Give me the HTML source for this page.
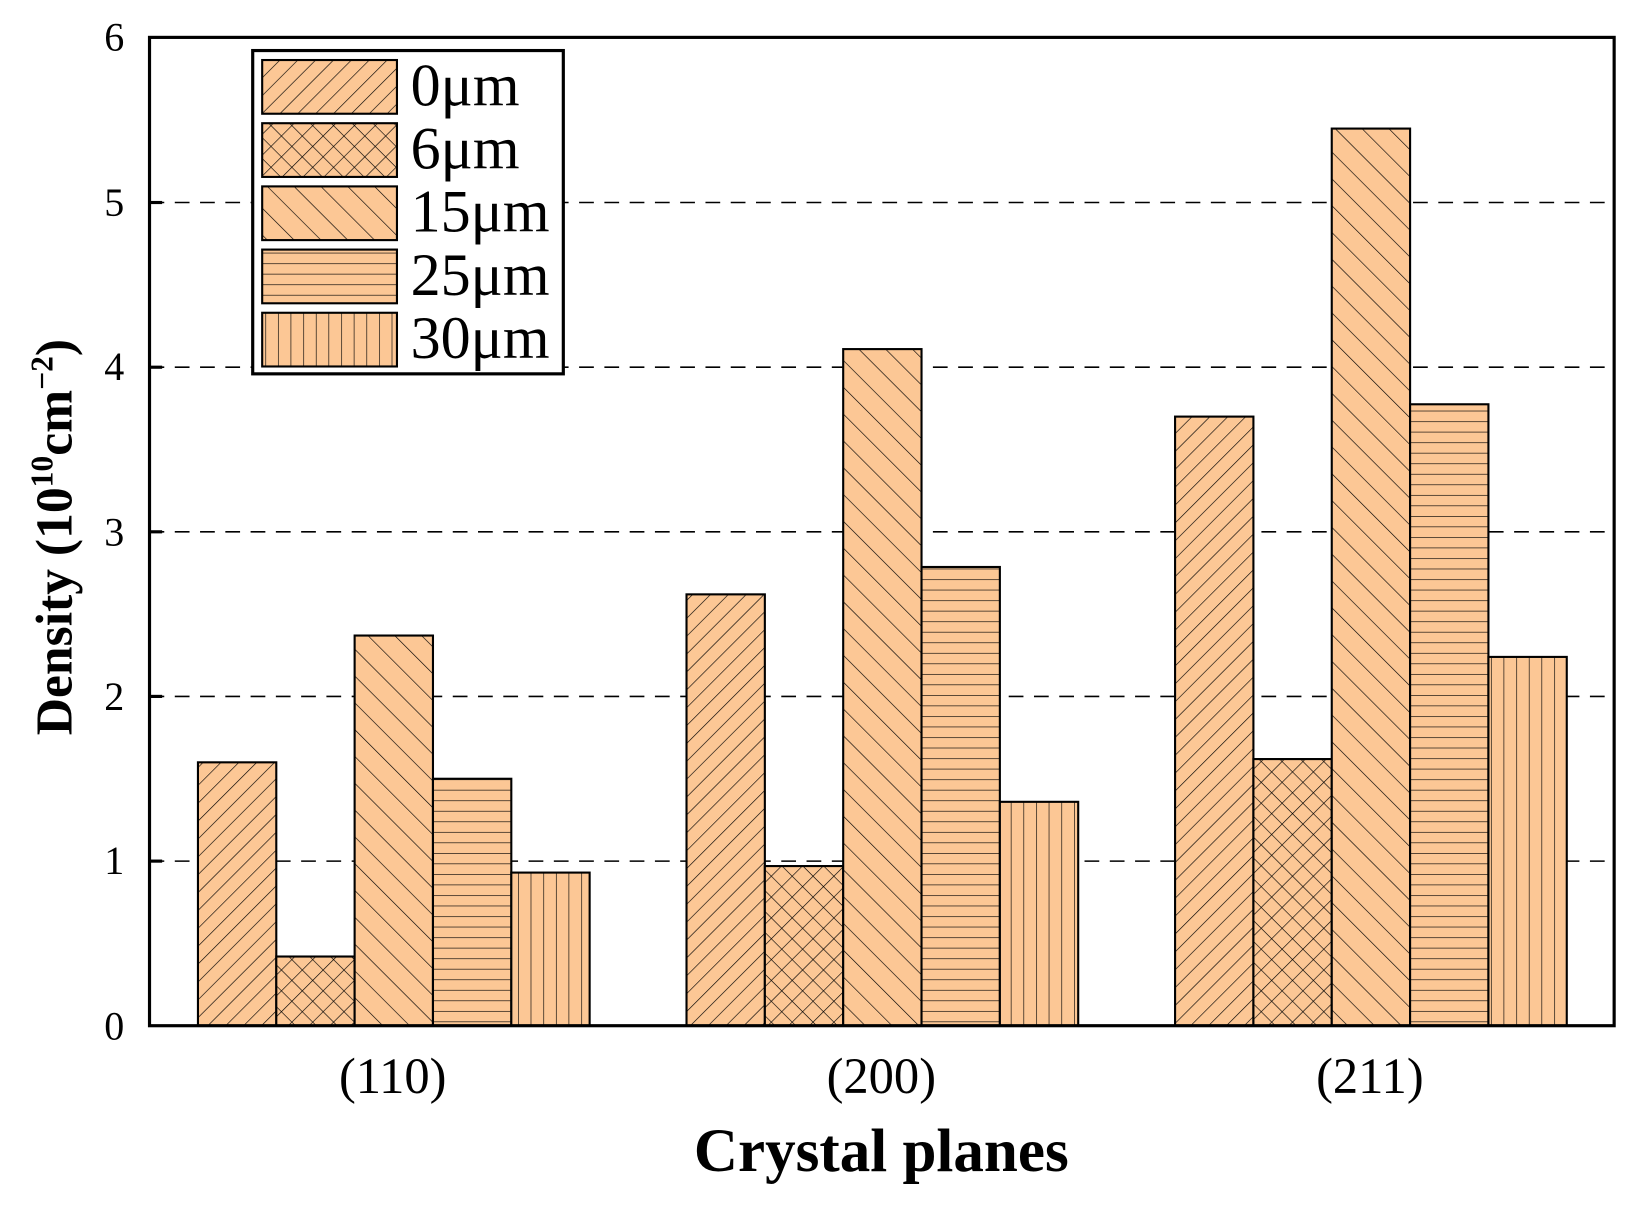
<!DOCTYPE html>
<html><head><style>html,body{margin:0;padding:0;background:#fff}svg{display:block}</style></head>
<body>
<svg width="1651" height="1210" viewBox="0 0 1568 1149" preserveAspectRatio="none" xmlns="http://www.w3.org/2000/svg" font-family="Liberation Serif, serif">
<defs>
<pattern id="p0" patternUnits="userSpaceOnUse" width="12" height="12" patternTransform="rotate(45)"><rect width="12" height="12" fill="#FCC795"/><line x1="0" y1="0" x2="0" y2="12" stroke="#000" stroke-width="1.2"/></pattern>
<pattern id="p1" patternUnits="userSpaceOnUse" width="14" height="14" patternTransform="rotate(45)"><rect width="14" height="14" fill="#FCC795"/><line x1="0" y1="0" x2="0" y2="14" stroke="#000" stroke-width="1.2"/><line x1="0" y1="0" x2="14" y2="0" stroke="#000" stroke-width="1.2"/></pattern>
<pattern id="p2" patternUnits="userSpaceOnUse" width="18" height="18" patternTransform="rotate(-45)"><rect width="18" height="18" fill="#FCC795"/><line x1="0" y1="0" x2="0" y2="18" stroke="#000" stroke-width="1.2"/></pattern>
<pattern id="p3" patternUnits="userSpaceOnUse" width="10" height="10"><rect width="10" height="10" fill="#FCC795"/><line x1="0" y1="0" x2="10" y2="0" stroke="#000" stroke-width="1.2"/></pattern>
<pattern id="p4" patternUnits="userSpaceOnUse" width="12" height="12"><rect width="12" height="12" fill="#FCC795"/><line x1="0" y1="0" x2="0" y2="12" stroke="#000" stroke-width="1.2"/></pattern>
</defs>
<g stroke="#000" stroke-width="1.5" stroke-dasharray="14,10">
<line x1="142" y1="192.3" x2="1533" y2="192.3"/>
<line x1="142" y1="348.7" x2="1533" y2="348.7"/>
<line x1="142" y1="505" x2="1533" y2="505"/>
<line x1="142" y1="661.3" x2="1533" y2="661.3"/>
<line x1="142" y1="817.7" x2="1533" y2="817.7"/>
</g>
<g stroke="#000" stroke-width="2">
<rect x="188" y="723.9" width="74.4" height="250.1" fill="url(#p0)"/>
<rect x="262.4" y="908.3" width="74.4" height="65.7" fill="url(#p1)"/>
<rect x="336.8" y="603.5" width="74.4" height="370.5" fill="url(#p2)"/>
<rect x="411.2" y="739.5" width="74.4" height="234.5" fill="url(#p3)"/>
<rect x="485.6" y="828.6" width="74.4" height="145.4" fill="url(#p4)"/>
<rect x="652" y="564.4" width="74.4" height="409.6" fill="url(#p0)"/>
<rect x="726.4" y="822.4" width="74.4" height="151.6" fill="url(#p1)"/>
<rect x="800.8" y="331.5" width="74.4" height="642.5" fill="url(#p2)"/>
<rect x="875.2" y="538.4" width="74.4" height="435.6" fill="url(#p3)"/>
<rect x="949.6" y="761.4" width="74.4" height="212.6" fill="url(#p4)"/>
<rect x="1116" y="395.6" width="74.4" height="578.4" fill="url(#p0)"/>
<rect x="1190.4" y="720.8" width="74.4" height="253.2" fill="url(#p1)"/>
<rect x="1264.8" y="122.1" width="74.4" height="851.9" fill="url(#p2)"/>
<rect x="1339.2" y="383.9" width="74.4" height="590.1" fill="url(#p3)"/>
<rect x="1413.6" y="623.8" width="74.4" height="350.2" fill="url(#p4)"/>
</g>
<rect x="142" y="35.5" width="1391" height="938.5" fill="none" stroke="#000" stroke-width="3"/>
<g stroke="#000" stroke-width="3">
<line x1="142" y1="192.3" x2="154" y2="192.3"/><line x1="142" y1="348.7" x2="154" y2="348.7"/><line x1="142" y1="505" x2="154" y2="505"/><line x1="142" y1="661.3" x2="154" y2="661.3"/><line x1="142" y1="817.7" x2="154" y2="817.7"/>
</g>
<g font-size="38" text-anchor="end">
<text x="118" y="48">6</text><text x="118" y="205">5</text><text x="118" y="361">4</text><text x="118" y="518">3</text><text x="118" y="674">2</text><text x="118" y="830">1</text><text x="118" y="987">0</text>
</g>
<g font-size="48" text-anchor="middle">
<text x="373" y="1038">(110)</text><text x="837" y="1038">(200)</text><text x="1301" y="1038">(211)</text>
</g>
<text x="837" y="1112" font-size="58" font-weight="bold" text-anchor="middle">Crystal planes</text>
<text transform="translate(68,510) rotate(-90)" font-size="49" font-weight="bold" text-anchor="middle">Density (10<tspan font-size="30" dy="-18">10</tspan><tspan dy="18">cm</tspan><tspan font-size="30" dy="-18">−2</tspan><tspan dy="18">)</tspan></text>
<rect x="240" y="48" width="295" height="307" fill="#fff" stroke="#000" stroke-width="3"/>
<g stroke="#000" stroke-width="2">
<rect x="249" y="57" width="128" height="51" fill="url(#p0)"/>
<rect x="249" y="117" width="128" height="51" fill="url(#p1)"/>
<rect x="249" y="177" width="128" height="51" fill="url(#p2)"/>
<rect x="249" y="237" width="128" height="51" fill="url(#p3)"/>
<rect x="249" y="297" width="128" height="51" fill="url(#p4)"/>
</g>
<g font-size="57">
<text x="390" y="100">0μm</text><text x="390" y="160">6μm</text><text x="390" y="220">15μm</text><text x="390" y="280">25μm</text><text x="390" y="340">30μm</text>
</g>
</svg>
</body></html>
